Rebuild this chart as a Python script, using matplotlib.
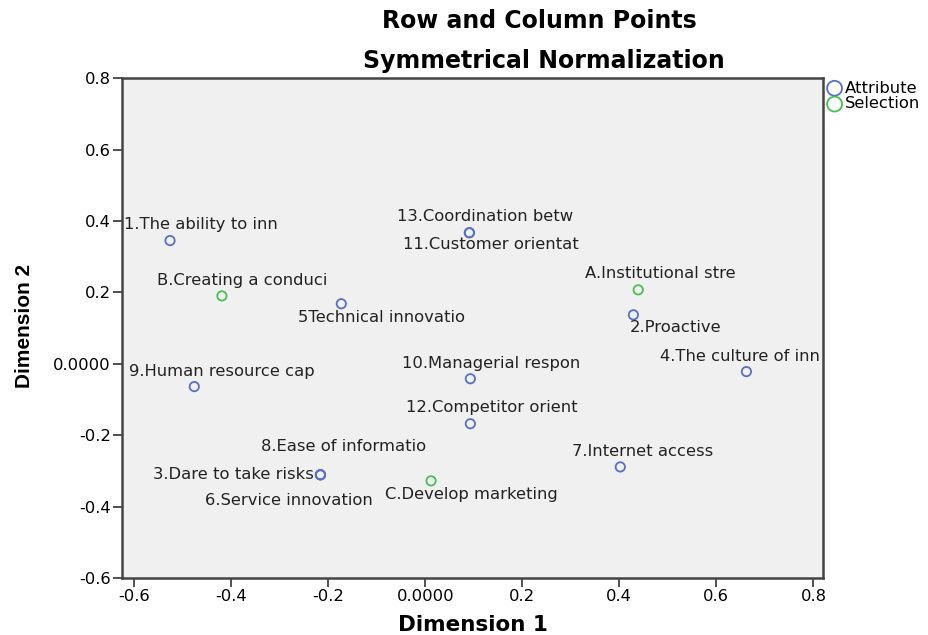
import matplotlib
matplotlib.use("Agg")
import matplotlib.pyplot as plt

plt.rcParams['font.family'] = ['DejaVu Sans']

# 行点 (Attribute)
attr_labels = ["1.The ability to inn", "2.Proactive", "3.Dare to take risks", "4.The culture of inn",
               "5Technical innovatio", "6.Service innovation", "7.Internet access", "8.Ease of informatio",
               "9.Human resource cap", "10.Managerial respon", "11.Customer orientat",
               "12.Competitor orient", "13.Coordination betw"]
attr_x = [-0.526, 0.429, -0.216, 0.662, -0.173, -0.216, 0.402, -0.216, -0.476, 0.093, 0.091, 0.093, 0.091]
attr_y = [0.345, 0.137, -0.311, -0.022, 0.168, -0.311, -0.289, -0.311, -0.064, -0.042, 0.367, -0.168, 0.367]

# 列点 (Selection)
sel_labels = ["A.Institutional stre", "B.Creating a conduci", "C.Develop marketing"]
sel_x = [0.439, -0.419, 0.012]
sel_y = [0.207, 0.19, -0.328]

# 标签偏移 (像素)
attr_off = [(31, 16, 'center'), (42, -13, 'center'), (-7, 0, 'right'), (-6, 15, 'center'),
            (40, -14, 'center'), (-32, -26, 'center'), (22, 15, 'center'), (23, 28, 'center'),
            (28, 15, 'center'), (21, 15, 'center'), (21, -12, 'center'), (21, 16, 'center'),
            (16, 16, 'center')]
sel_off = [(22, 16, 'center'), (20, 15, 'center'), (40, -14, 'center')]

blue = '#5670C8'
green = '#45C052'
fs = 11.8

fig = plt.figure(figsize=(9.29, 6.35), dpi=100)
ax = fig.add_axes([0.1313, 0.0898, 0.7547, 0.7872])
ax.set_facecolor('#F0F0F0')

ax.scatter(attr_x, attr_y, s=45, facecolors='none', edgecolors=blue, linewidths=1.3,
           label='Attribute', zorder=3)
ax.scatter(sel_x, sel_y, s=45, facecolors='none', edgecolors=green, linewidths=1.3,
           label='Selection', zorder=3)

for lab, x, y, (dx, dy, ha) in zip(attr_labels, attr_x, attr_y, attr_off):
    ax.annotate(lab, (x, y), xytext=(dx * 0.72, dy * 0.72), textcoords='offset points',
                ha=ha, va='center', fontsize=fs, color='#222222', clip_on=True)
for lab, x, y, (dx, dy, ha) in zip(sel_labels, sel_x, sel_y, sel_off):
    ax.annotate(lab, (x, y), xytext=(dx * 0.72, dy * 0.72), textcoords='offset points',
                ha=ha, va='center', fontsize=fs, color='#222222', clip_on=True)

ax.set_xlim(-0.625, 0.82)
ax.set_ylim(-0.6, 0.8)
ticks = [-0.6, -0.4, -0.2, 0.0, 0.2, 0.4, 0.6, 0.8]
tick_text = ['-0.6', '-0.4', '-0.2', '0.0000', '0.2', '0.4', '0.6', '0.8']
ax.set_xticks(ticks)
ax.set_xticklabels(tick_text)
ax.set_yticks(ticks)
ax.set_yticklabels(tick_text)
ax.tick_params(labelsize=fs, length=6.5, width=1.2, color='#333333', pad=1.5)
for sp in ax.spines.values():
    sp.set_linewidth(1.8)
    sp.set_color('#444444')

ax.set_xlabel('Dimension 1', fontsize=15.5, fontweight='bold', labelpad=8)
fig.text(0.026, 0.487, 'Dimension 2', rotation=90, ha='center', va='center',
         fontsize=15, fontweight='bold', family='Liberation Sans')

fig.text(0.581, 0.967, 'Row and Column Points', ha='center', va='center',
         fontsize=17, fontweight='bold')
fig.text(0.585, 0.904, 'Symmetrical Normalization', ha='center', va='center',
         fontsize=17, fontweight='bold')

ax.legend(loc='upper left', bbox_to_anchor=(1.0, 1.0), frameon=False, fontsize=fs,
          markerscale=1.6, handletextpad=0.1, borderaxespad=0.15, labelspacing=0.05,
          borderpad=0.0, handlelength=1.1)

fig.savefig('out.png', dpi=100)
